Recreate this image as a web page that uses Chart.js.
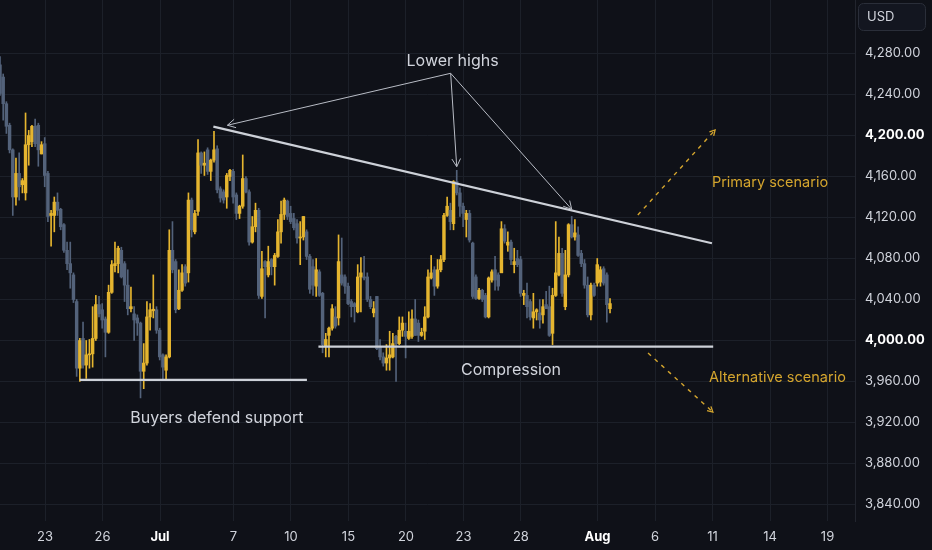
<!DOCTYPE html>
<html>
<head>
<meta charset="utf-8">
<script src="https://cdn.jsdelivr.net/npm/chart.js@4.4.1/dist/chart.umd.min.js"></script>
<style>
  html, body { margin: 0; padding: 0; background: #0f1118; }
  #wrap { width: 932px; height: 550px; }
</style>
</head>
<body>
<div id="wrap"><canvas id="chart" width="932" height="550"></canvas></div>
<script>
// 4h candles, index 0 = first visible bar
const opens = [4269,4257,4231,4210,4186,4140,4163,4152,4144,4191,4194,4209,4210,4182,4192,4163,4122,4122,4135,4128,
  4113,4088,4075,4064,4038,3973,4002,3976,3986,3987,4002,4035,4030,4021,4008,4047,4073,4075,4088,4075,
  4054,4031,4026,4022,4017,3970,3978,4023,4029,4030,4010,3986,3971,3984,4088,4077,4031,4049,4072,4066,
  4137,4106,4126,4183,4171,4186,4165,4176,4187,4148,4145,4140,4160,4165,4142,4124,4131,4158,4145,4096,
  4111,4127,4043,4077,4064,4079,4072,4082,4106,4123,4136,4124,4119,4114,4100,4101,4106,4082,4072,4053,
  4067,4046,3994,4005,4012,4023,4022,4064,4062,4053,4038,4036,4028,4062,4062,4062,4040,4027,4043,3994,
  3984,3978,3983,3984,4004,3997,4010,4009,4002,4004,4021,4017,4005,4009,4023,4061,4069,4053,4069,4079,
  4122,4127,4114,4155,4144,4131,4118,4124,4095,4062,4041,4049,4044,4023,4059,4069,4064,4066,4109,4093,
  4096,4074,4080,4079,4044,4044,4038,4022,4028,4027,4025,4035,4033,4007,4044,4064,4085,4033,4064,4113,
  4101,4103,4085,4075,4054,4025,4054,4056,4057,4070,4064,4031];
const highs = [4277,4260,4233,4212,4187,4178,4183,4158,4222,4205,4210,4216,4212,4194,4198,4165,4127,4140,4144,4129,
  4114,4096,4096,4066,4040,4002,4018,4000,4001,4033,4044,4043,4036,4023,4054,4078,4096,4092,4091,4077,
  4069,4052,4033,4025,4018,3997,4038,4036,4064,4033,4012,3987,3986,4108,4116,4079,4069,4074,4074,4144,
  4139,4127,4196,4184,4184,4188,4177,4204,4190,4150,4147,4163,4167,4167,4144,4132,4181,4160,4147,4121,
  4134,4129,4087,4078,4092,4080,4085,4118,4136,4139,4137,4131,4124,4118,4116,4121,4108,4084,4079,4080,
  4069,4047,4007,4013,4035,4033,4103,4100,4064,4056,4040,4037,4074,4081,4082,4066,4043,4038,4043,4001,
  3988,3996,4009,4007,4005,4023,4023,4017,4028,4030,4040,4020,4012,4033,4069,4083,4072,4079,4083,4124,
  4140,4134,4156,4166,4149,4134,4127,4127,4096,4064,4051,4050,4046,4062,4069,4082,4066,4116,4113,4106,
  4098,4090,4088,4082,4049,4056,4040,4046,4031,4040,4040,4048,4053,4051,4116,4101,4090,4088,4114,4121,
  4118,4111,4088,4079,4062,4056,4056,4080,4072,4072,4066,4041];
const lows = [4239,4215,4202,4183,4122,4132,4137,4144,4137,4171,4189,4189,4170,4182,4150,4116,4092,4106,4122,4108,
  4086,4069,4051,4037,3965,3960,3973,3963,3973,3974,4000,4023,4012,3984,4007,4046,4067,4066,4061,4038,
  4025,4028,4000,4005,3944,3953,3976,4010,4022,4007,3981,3962,3961,3983,4066,4027,4030,4048,4053,4057,
  4101,4104,4122,4163,4161,4162,4156,4174,4144,4135,4134,4129,4156,4134,4118,4119,4129,4144,4093,4095,
  4106,4041,4041,4022,4062,4064,4054,4081,4095,4118,4118,4114,4108,4095,4074,4098,4079,4046,4044,4043,
  4043,3988,3984,3984,4010,4012,4015,4054,4046,4035,4023,4018,4027,4028,4059,4038,4031,4023,3991,3981,
  3975,3971,3971,3983,3960,3996,4004,3983,4001,4002,4005,3999,4004,4001,4022,4060,4044,4051,4067,4077,
  4121,4108,4108,4142,4121,4111,4101,4096,4041,4040,4040,4038,4022,4022,4057,4049,4049,4083,4095,4087,
  4074,4066,4072,4043,4035,4022,4020,4012,4020,4012,4017,4031,4004,3996,4043,4063,4043,4030,4062,4100,
  4098,4082,4072,4051,4023,4020,4043,4053,4053,4054,4018,4027];
const closes = [4241,4231,4209,4186,4140,4163,4150,4156,4191,4200,4209,4192,4186,4191,4161,4121,4124,4135,4127,4111,
  4088,4075,4066,4040,3973,4000,3976,3986,3987,4002,4035,4026,4020,4008,4047,4074,4075,4090,4062,4054,
  4031,4033,4020,4017,3970,3978,4023,4030,4030.5,4010,3984,3974,3984,4088,4069,4030,4049,4066,4056,4137,
  4108,4124,4183,4171,4173,4165,4176,4186,4147,4139,4137,4161,4166,4140,4124,4131,4158,4145,4096,4111,
  4127,4044,4070,4072,4077,4072,4083,4106,4123,4137,4121,4116,4110,4100,4101,4121,4082,4050,4054,4069,
  4044,3996,4001,4012,4031,4014,4077,4056,4053,4036,4033,4033,4062,4066,4061,4040,4033,4031,3992,3984,
  3978,3983,3986,3997,3997,4010,4017,4004,4009,4021,4005,4005,4008,4023,4062,4066,4053,4069,4079,4122,
  4131,4116,4155,4144,4131,4124,4124,4098,4043,4041,4049,4040,4023,4061,4067,4059,4053,4109,4097,4096,
  4079,4077,4074,4046,4046,4033,4023,4028,4030,4020,4033,4031,4005,4044,4066,4085,4046,4064,4113,4101,
  4105,4083,4075,4054,4025,4054,4044,4074,4069,4056,4035,4036];

// x axis: positions (in bar units) of the date labels
const tickPos = [14.1, 32.1, 50.1, 73.1, 91.1, 109.1, 127.1, 145.1, 163.1, 187.1, 205.1, 223.1, 241.1, 259.1];
const tickLabels = ['23', '26', 'Jul', '7', '10', '15', '20', '23', '28', 'Aug', '6', '11', '14', '19'];
const boldDates = ['Jul', 'Aug'];
const priceTicks = [3840, 3880, 3920, 3960, 4000, 4040, 4080, 4120, 4160, 4200, 4240, 4280];
const boldPrices = [4000, 4200];

// drawing annotations, [bar, price]
const trendLine = [[66.8, 4208.6], [222.9, 4094.9]];
const supportLine = [[25.0, 3961.5], [96.1, 3961.5]];
const compressionLine = [[99.7, 3994.0], [223.3, 3994.0]];
const lowerHighsApex = [141.1, 4260.7];
const lowerHighsTargets = [[71.2, 4210.0], [143.0, 4169.6], [179.0, 4128.0]];
const primaryPath = [[199.7, 4122.4], [223.9, 4205.4]];
const alternativePath = [[202.9, 3987.8], [223.2, 3930.2]];

const UP = '#e5b52f';
const DOWN = '#53627a';
const LINE = '#cdd1d8';
const GOLD = '#d4a52e';
const TEXT = '#d1d4dc';

const notes = [
  { text: 'Lower highs', at: [141.7, 4272.2], color: TEXT, size: 16, align: 'center' },
  { text: 'Compression', at: [160.0, 3971.2], color: TEXT, size: 16, align: 'center' },
  { text: 'Buyers defend support', at: [67.9, 3924.4], color: TEXT, size: 16, align: 'center' },
  { text: 'Primary scenario', at: [222.9, 4154.3], color: GOLD, size: 14.5, align: 'left' },
  { text: 'Alternative scenario', at: [222.0, 3963.4], color: GOLD, size: 14.5, align: 'left' }
];

const idx = opens.map((_, i) => i);
const candleColors = idx.map(i => closes[i] >= opens[i] ? UP : DOWN);
const toXY = pts => pts.map(p => ({ x: p[0], y: p[1] }));

function lineSet(pts, color, width, dash) {
  return {
    type: 'line',
    data: toXY(pts),
    borderColor: color,
    borderWidth: width,
    borderDash: dash || [],
    pointRadius: 0,
    fill: false,
    tension: 0,
    order: 0
  };
}

const arrows = [
  ...lowerHighsTargets.map(t => ({ from: lowerHighsApex, to: t, color: '#b8bcc5', width: 1, len: 9 })),
  { from: primaryPath[0], to: primaryPath[1], color: GOLD, width: 1.3, len: 6 },
  { from: alternativePath[0], to: alternativePath[1], color: GOLD, width: 1.3, len: 6 }
];

const isBoldPrice = ctx => !!(ctx.tick && boldPrices.includes(ctx.tick.value));
const isBoldDate = ctx => boldDates.includes(tickLabels[ctx.index]);

const bgPlugin = {
  id: 'bg',
  beforeDraw(chart) {
    const c = chart.ctx;
    c.save();
    c.fillStyle = '#0f1118';
    c.fillRect(0, 0, chart.width, chart.height);
    c.restore();
  }
};

const decorPlugin = {
  id: 'decor',
  afterDatasetsDraw(chart) {
    const c = chart.ctx;
    const xs = chart.scales.x, ys = chart.scales.y;
    const px = p => [xs.getPixelForValue(p[0]), ys.getPixelForValue(p[1])];

    // arrow heads
    arrows.forEach(a => {
      const [x1, y1] = px(a.from), [x2, y2] = px(a.to);
      const ang = Math.atan2(y2 - y1, x2 - x1);
      c.save();
      c.strokeStyle = a.color;
      c.lineWidth = a.width;
      c.beginPath();
      c.moveTo(x2 - a.len * Math.cos(ang - 0.5), y2 - a.len * Math.sin(ang - 0.5));
      c.lineTo(x2, y2);
      c.lineTo(x2 - a.len * Math.cos(ang + 0.5), y2 - a.len * Math.sin(ang + 0.5));
      c.stroke();
      c.restore();
    });

    // text notes
    notes.forEach(n => {
      const [x, y] = px(n.at);
      c.save();
      c.font = n.size + 'px Inter, "Noto Sans", sans-serif';
      c.fillStyle = n.color;
      c.textAlign = n.align;
      c.textBaseline = 'middle';
      c.fillText(n.text, x, y);
      c.restore();
    });
  },
  afterDraw(chart) {
    // currency box at top of the price scale
    const c = chart.ctx;
    c.save();
    c.fillStyle = '#131620';
    c.strokeStyle = '#2a2e39';
    c.lineWidth = 1;
    c.beginPath();
    c.roundRect(858.5, 3.5, 67, 27, 5);
    c.fill();
    c.stroke();
    c.font = '13px Inter, "Noto Sans", sans-serif';
    c.fillStyle = TEXT;
    c.textBaseline = 'middle';
    c.fillText('USD', 867, 17.5);
    c.restore();
  }
};

new Chart(document.getElementById('chart'), {
  type: 'bar',
  data: {
    datasets: [
      {
        data: idx.map(i => ({ x: i, y: [opens[i], closes[i]] })),
        backgroundColor: candleColors,
        barThickness: 2.8,
        minBarLength: 1,
        grouped: false,
        order: 1
      },
      {
        data: idx.map(i => ({ x: i, y: [lows[i], highs[i]] })),
        backgroundColor: candleColors,
        barThickness: 1,
        grouped: false,
        order: 2
      },
      lineSet(trendLine, LINE, 2.2),
      lineSet(supportLine, LINE, 2.2),
      lineSet(compressionLine, LINE, 2.2),
      ...lowerHighsTargets.map(t => lineSet([lowerHighsApex, t], '#b8bcc5', 1)),
      lineSet(primaryPath, GOLD, 1.4, [4, 5]),
      lineSet(alternativePath, GOLD, 1.4, [4, 5])
    ]
  },
  options: {
    responsive: false,
    animation: false,
    events: [],
    layout: { padding: 0 },
    plugins: { legend: { display: false }, tooltip: { enabled: false } },
    scales: {
      x: {
        type: 'linear',
        min: 0,
        max: 267.7,
        offset: false,
        afterFit: s => { s.height = 29; s.paddingLeft = 0; s.paddingRight = 0; },
        afterBuildTicks: s => { s.ticks = tickPos.map(v => ({ value: v })); },
        grid: { color: '#1c2029', drawTicks: false, offset: false },
        border: { display: false },
        ticks: {
          padding: 8,
          maxRotation: 0,
          autoSkip: false,
          callback: (v, i) => tickLabels[i],
          color: ctx => isBoldDate(ctx) ? '#ffffff' : TEXT,
          font: ctx => ({ family: 'Inter', size: 13, weight: isBoldDate(ctx) ? '700' : '400' })
        }
      },
      y: {
        position: 'right',
        min: 3823.9,
        max: 4332.2,
        afterFit: s => { s.width = 77; s.paddingTop = 0; s.paddingBottom = 0; },
        afterBuildTicks: s => { s.ticks = priceTicks.map(v => ({ value: v })); },
        grid: { color: '#1c2029', drawTicks: false },
        border: { color: '#22252e' },
        ticks: {
          padding: 10,
          callback: v => v.toLocaleString('en-US', { minimumFractionDigits: 2, maximumFractionDigits: 2 }),
          color: ctx => isBoldPrice(ctx) ? '#ffffff' : TEXT,
          font: ctx => ({ family: 'Inter', size: 13, weight: isBoldPrice(ctx) ? '700' : '400' })
        }
      }
    }
  },
  plugins: [bgPlugin, decorPlugin]
});
</script>
</body>
</html>
